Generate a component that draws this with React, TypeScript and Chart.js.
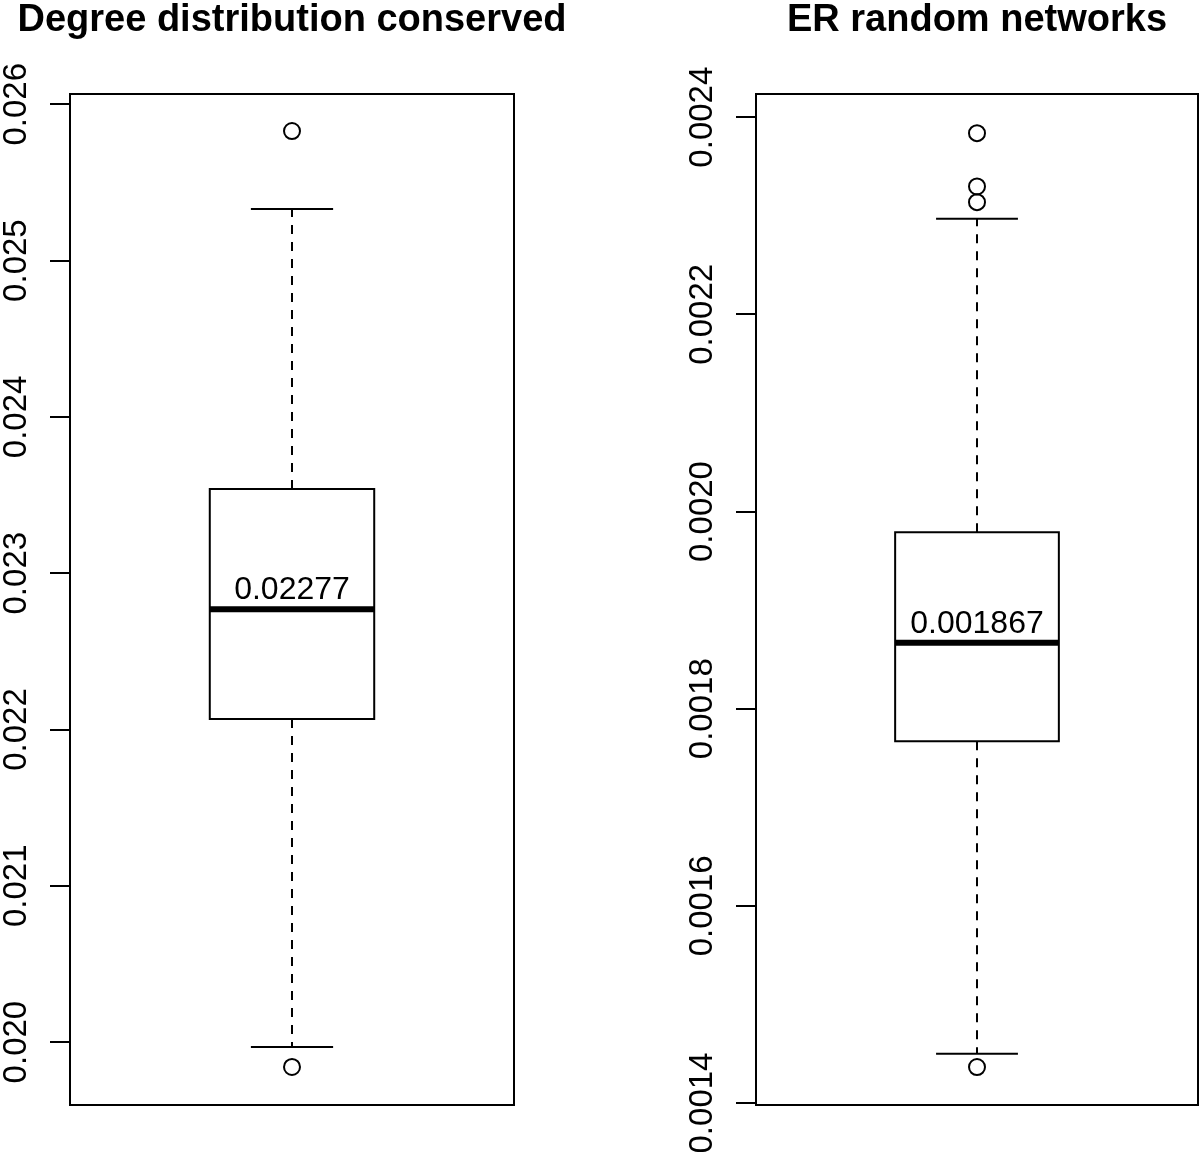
import React, { useEffect, useRef } from "react";
import { Chart, registerables } from "chart.js";

Chart.register(...registerables);

// ---- data ----
const leftTitle = "Degree distribution conserved";
// [lower whisker, Q1, median, Q3, upper whisker]
const leftStats = [0.019969, 0.022067, 0.02277, 0.023539, 0.02533];
const leftOutliers = [0.025829, 0.019841];
const leftMedianLabel = "0.02277";
const leftTicks = [0.02, 0.021, 0.022, 0.023, 0.024, 0.025, 0.026];
const leftTickLabels = ["0.020", "0.021", "0.022", "0.023", "0.024", "0.025", "0.026"];
const leftRange = [0.0195976, 0.0260659];

const rightTitle = "ER random networks";
const rightStats = [0.00145, 0.001767, 0.001867, 0.001979, 0.002297];
const rightOutliers = [0.0023838, 0.0023297, 0.0023138, 0.0014365];
const rightMedianLabel = "0.001867";
const rightTicks = [0.0014, 0.0016, 0.0018, 0.002, 0.0022, 0.0024];
const rightTickLabels = ["0.0014", "0.0016", "0.0018", "0.0020", "0.0022", "0.0024"];
const rightRange = [0.001398, 0.0024235];

const FONT = '"Liberation Sans", Arial, Helvetica, sans-serif';

type PanelProps = {
  title: string;
  stats: number[];
  outliers: number[];
  medianLabel: string;
  ticks: number[];
  tickLabels: string[];
  range: number[];
  padLeft: number;
  padRight: number;
  left: number;
};

function line(points: { x: number; y: number }[], width: number, dash: number[] = []) {
  return {
    type: "scatter" as const,
    data: points,
    showLine: true,
    borderColor: "#000",
    backgroundColor: "#000",
    borderWidth: width,
    borderDash: dash,
    borderCapStyle: "butt" as const,
    pointRadius: 0,
    pointHoverRadius: 0,
    tension: 0,
    fill: false,
  };
}

function Panel(props: PanelProps) {
  const ref = useRef<HTMLCanvasElement | null>(null);
  useEffect(() => {
    if (!ref.current) return;
    const [lo, q1, med, q3, hi] = props.stats;
    const textPlugin = {
      id: "boxText",
      afterDraw(chart: any) {
        const ctx = chart.ctx as CanvasRenderingContext2D;
        const area = chart.chartArea;
        const ys = chart.scales.y;
        const xs = chart.scales.x;
        ctx.save();
        // frame
        ctx.strokeStyle = "#000";
        ctx.lineWidth = 2;
        ctx.strokeRect(area.left, area.top, area.right - area.left, area.bottom - area.top);
        // title
        ctx.fillStyle = "#000";
        ctx.font = `bold 38px ${FONT}`;
        ctx.textAlign = "center";
        ctx.textBaseline = "alphabetic";
        ctx.fillText(props.title, (area.left + area.right) / 2, 31);
        // rotated tick labels
        ctx.font = `33px ${FONT}`;
        props.ticks.forEach((v, i) => {
          const py = ys.getPixelForValue(v);
          ctx.save();
          ctx.translate(area.left - 44, py);
          ctx.rotate(-Math.PI / 2);
          ctx.textAlign = "center";
          ctx.textBaseline = "alphabetic";
          ctx.fillText(props.tickLabels[i], 0, 0);
          ctx.restore();
        });
        // median label
        ctx.font = `32px ${FONT}`;
        ctx.textAlign = "center";
        ctx.textBaseline = "alphabetic";
        ctx.fillText(props.medianLabel, xs.getPixelForValue(1), ys.getPixelForValue(med) - 10);
        ctx.restore();
      },
    };
    const chart = new Chart(ref.current, {
      type: "scatter",
      data: {
        datasets: [
          {
            ...line(
              [
                { x: 0.8, y: q1 },
                { x: 1.2, y: q1 },
                { x: 1.2, y: q3 },
                { x: 0.8, y: q3 },
                { x: 0.8, y: q1 },
              ],
              2
            ),
            borderCapStyle: "square" as const,
          },
          line([{ x: 0.8, y: med }, { x: 1.2, y: med }], 6),
          line([{ x: 1, y: q3 }, { x: 1, y: hi }], 2, [9, 8]),
          line([{ x: 1, y: q1 }, { x: 1, y: lo }], 2, [9, 8]),
          line([{ x: 0.9, y: hi }, { x: 1.1, y: hi }], 2),
          line([{ x: 0.9, y: lo }, { x: 1.1, y: lo }], 2),
          {
            type: "scatter" as const,
            data: props.outliers.map((v) => ({ x: 1, y: v })),
            showLine: false,
            pointRadius: 8,
            pointHoverRadius: 8,
            pointBorderWidth: 2,
            borderColor: "#000",
            pointBorderColor: "#000",
            backgroundColor: "rgba(0,0,0,0)",
            pointBackgroundColor: "rgba(0,0,0,0)",
          },
        ],
      },
      options: {
        animation: false,
        responsive: false,
        maintainAspectRatio: false,
        devicePixelRatio: 1,
        events: [],
        layout: {
          autoPadding: false,
          padding: { left: props.padLeft, right: props.padRight, top: 94, bottom: 47 },
        },
        plugins: { legend: { display: false }, tooltip: { enabled: false }, title: { display: false } },
        scales: {
          x: { type: "linear", min: 0.46, max: 1.54, display: false },
          y: {
            type: "linear",
            position: "left",
            min: props.range[0],
            max: props.range[1],
            afterBuildTicks: (scale: any) => {
              scale.ticks = props.ticks.map((v) => ({ value: v }));
            },
            afterFit: (scale: any) => {
              scale.width = 0;
            },
            ticks: { display: false },
            border: { display: false },
            grid: {
              drawOnChartArea: false,
              drawTicks: true,
              tickLength: 20,
              color: "#000",
              lineWidth: 2,
            },
          },
        },
      } as any,
      plugins: [textPlugin],
    });
    return () => chart.destroy();
  }, []);
  return (
    <canvas
      ref={ref}
      width={600}
      height={1152}
      style={{ position: "absolute", left: props.left, top: 0, width: 600, height: 1152 }}
    />
  );
}

export default function App() {
  return (
    <div style={{ position: "absolute", left: 0, top: 0, width: 1200, height: 1152, background: "#fff" }}>
      <Panel
        title={leftTitle}
        stats={leftStats}
        outliers={leftOutliers}
        medianLabel={leftMedianLabel}
        ticks={leftTicks}
        tickLabels={leftTickLabels}
        range={leftRange}
        padLeft={70}
        padRight={86}
        left={0}
      />
      <Panel
        title={rightTitle}
        stats={rightStats}
        outliers={rightOutliers}
        medianLabel={rightMedianLabel}
        ticks={rightTicks}
        tickLabels={rightTickLabels}
        range={rightRange}
        padLeft={156}
        padRight={2}
        left={600}
      />
    </div>
  );
}
